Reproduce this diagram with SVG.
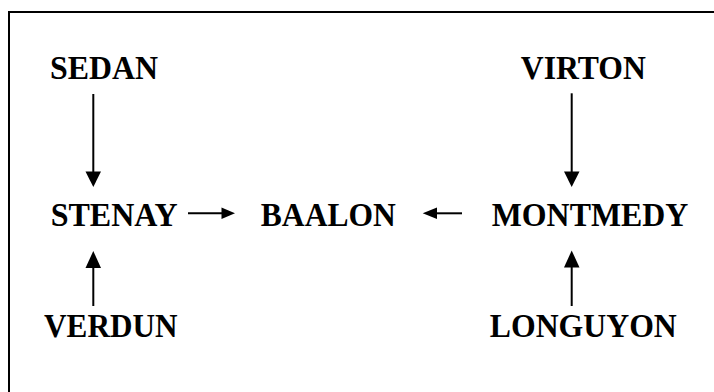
<svg xmlns="http://www.w3.org/2000/svg" width="714" height="392" viewBox="0 0 714 392">
<style>
.lbl{font-family:"Liberation Serif","Times New Roman",serif;font-weight:bold;font-size:33px;fill:#000;text-anchor:middle}
.ln{stroke:#000;stroke-width:2;fill:none}
.hd{fill:#000;stroke:none}
</style>
<rect width="714" height="392" fill="#fff"/>
<path d="M9,393 V12 H715" fill="none" stroke="#000" stroke-width="2"/>
<g id="sedan"><text class="lbl" x="104" y="79.3" textLength="108" lengthAdjust="spacingAndGlyphs">SEDAN</text></g>
<g id="virton"><text class="lbl" x="583.3" y="79.3" textLength="125" lengthAdjust="spacingAndGlyphs">VIRTON</text></g>
<g id="stenay"><text class="lbl" x="114.2" y="226" textLength="127" lengthAdjust="spacingAndGlyphs">STENAY</text></g>
<g id="baalon"><text class="lbl" x="328.3" y="226" textLength="135" lengthAdjust="spacingAndGlyphs">BAALON</text></g>
<g id="montmedy"><text class="lbl" x="590" y="226" textLength="196.5" lengthAdjust="spacingAndGlyphs">MONTMEDY</text></g>
<g id="verdun"><text class="lbl" x="110.8" y="336.7" textLength="133.5" lengthAdjust="spacingAndGlyphs">VERDUN</text></g>
<g id="longuyon"><text class="lbl" x="583.3" y="336.7" textLength="187" lengthAdjust="spacingAndGlyphs">LONGUYON</text></g>
<g id="connectors">
<line class="ln" x1="93.3" y1="94" x2="93.3" y2="173"/>
<polygon class="hd" points="85.5,171.5 101,171.5 93.3,187"/>
<line class="ln" x1="571.7" y1="93.3" x2="571.7" y2="173"/>
<polygon class="hd" points="564,171.5 579.5,171.5 571.7,187"/>
<line class="ln" x1="93.3" y1="306" x2="93.3" y2="266"/>
<polygon class="hd" points="85.5,268 101,268 93.3,251"/>
<line class="ln" x1="571.7" y1="306" x2="571.7" y2="266"/>
<polygon class="hd" points="564,267.5 579.5,267.5 571.7,250.5"/>
<line class="ln" x1="188" y1="213.3" x2="223" y2="213.3"/>
<polygon class="hd" points="221.5,207.5 221.5,219 235,213.3"/>
<line class="ln" x1="462" y1="213.3" x2="435" y2="213.3"/>
<polygon class="hd" points="437,207.5 437,219 422.7,213.3"/>
</g>
</svg>
